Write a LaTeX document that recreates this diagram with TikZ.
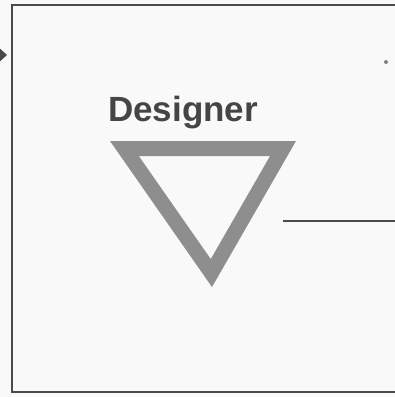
\documentclass[tikz,border=0pt]{standalone}
\usepackage{fontspec}
\setmainfont{Liberation Sans}
\usepackage{xcolor}
\definecolor{mInk}{HTML}{454545}
\definecolor{mFrame}{HTML}{4A4A4A}
\definecolor{mTri}{HTML}{8E8E8E}
\definecolor{mPaper}{HTML}{FAF9FA}
\usepackage{tikz}
\usetikzlibrary{positioning,arrows.meta,calc}

\begin{document}
\begin{tikzpicture}[x=1pt, y=-1pt]
\fill[mPaper] (0,0) rectangle (395,397);
\useasboundingbox (0,0) rectangle (395,397);
% frame, open on the right
\draw[mFrame, line width=1.1pt] (395,5) -- (12,5) -- (12,392) -- (395,392);
\fill[mFrame] (-4,45) -- (7,55) -- (-4,65) -- cycle;
\fill[mFrame!70] (386,62) circle (2);
\node[anchor=base west, inner sep=0pt, text=mInk, font=\bfseries\fontsize{35}{40}\selectfont] (designer) at (108,121) {Designer};
% triangle drawn on its centre line
\coordinate (inc) at (207.8,192);
\coordinate (tl) at ($(inc)!0.853!(110,141)$);
\coordinate (tr) at ($(inc)!0.853!(296,141)$);
\coordinate (bt) at ($(inc)!0.853!(212,287)$);
\draw[mTri, line width=15pt, line join=miter] (tl) -- (tr) -- (bt) -- cycle;
\coordinate (lineL) at (283,221);
\coordinate (lineR) at (395,221);
\draw[mFrame, line width=1.2pt] (lineL) -- (lineR);
\end{tikzpicture}
\end{document}
